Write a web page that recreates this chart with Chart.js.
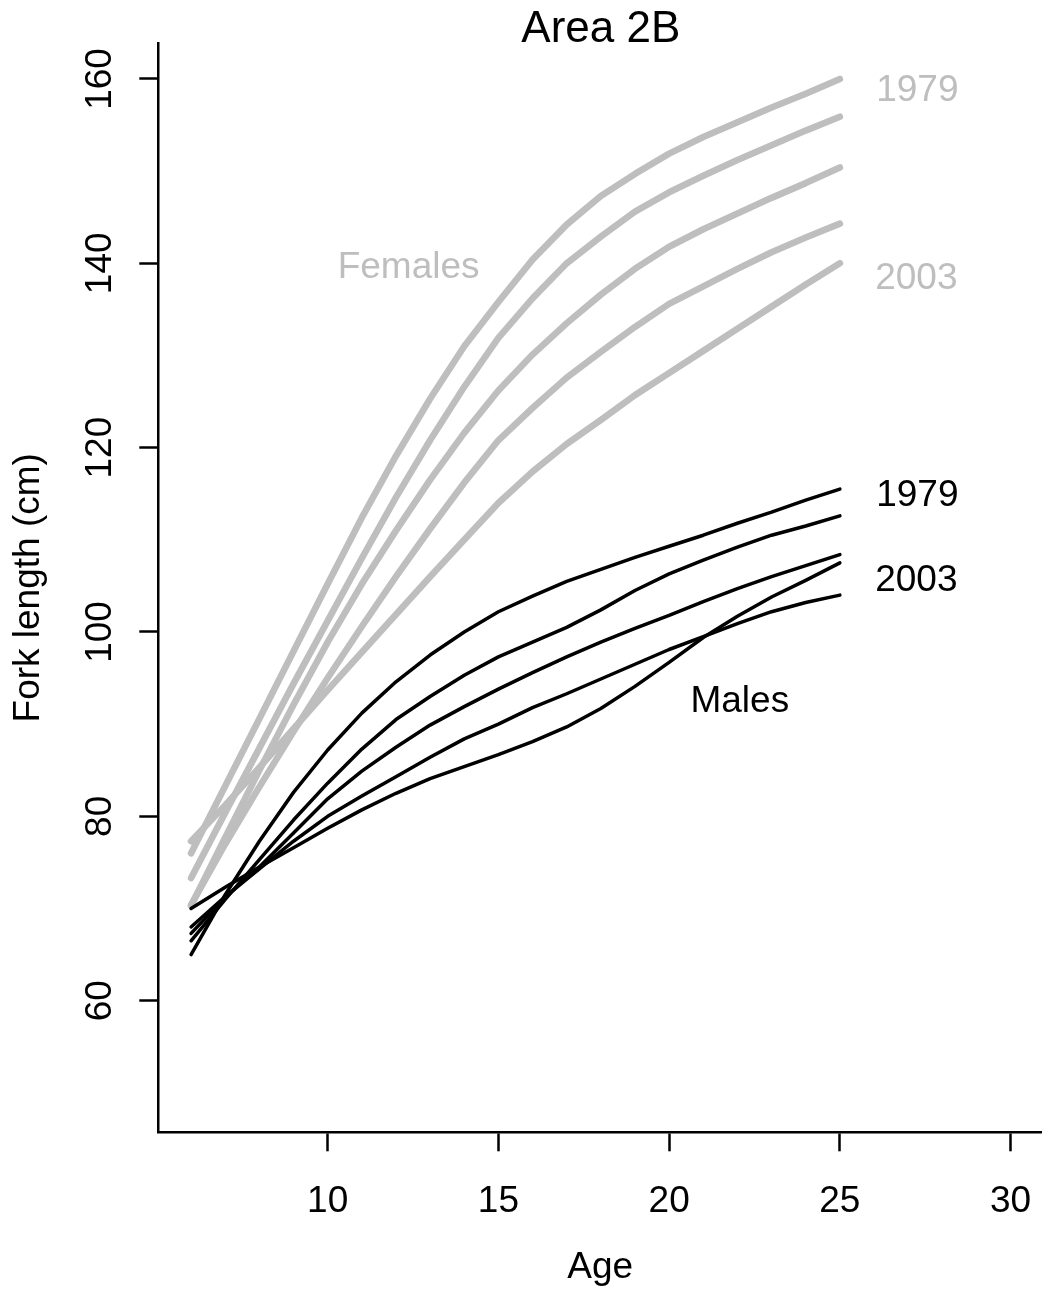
<!DOCTYPE html>
<html>
<head>
<meta charset="utf-8">
<title>Area 2B</title>
<script src="https://cdn.jsdelivr.net/npm/chart.js@4.4.1/dist/chart.umd.min.js"></script>
<style>
  html, body { margin: 0; padding: 0; background: #fff; }
  #wrap { width: 1042px; height: 1289px; position: relative; }
</style>
</head>
<body>
<div id="wrap"><canvas id="growth"></canvas></div>
<script>
// ages and fitted fork length (cm) by year, 1979 -> 2003
const ages = [6, 7, 8, 9, 10, 11, 12, 13, 14, 15, 16, 17, 18, 19, 20, 21, 22, 23, 24, 25]

const female1 = [76.0, 83.3, 90.6, 97.9, 105.2, 112.4, 119.1, 125.3, 131.0, 135.8, 140.4, 144.2, 147.3, 149.7, 151.9, 153.7, 155.3, 156.9, 158.4, 160.0]
const female2 = [73.3, 80.4, 87.4, 94.4, 101.2, 108.0, 114.6, 120.8, 126.6, 131.9, 136.2, 140.0, 142.9, 145.6, 147.7, 149.5, 151.2, 152.8, 154.4, 155.9]
const female3 = [70.3, 77.7, 85.0, 92.1, 98.9, 105.2, 111.0, 116.5, 121.6, 126.2, 130.1, 133.5, 136.6, 139.4, 141.8, 143.7, 145.4, 147.1, 148.7, 150.4]
const female4 = [70.4, 77.0, 83.2, 89.2, 95.0, 100.6, 106.0, 111.2, 116.2, 120.8, 124.3, 127.6, 130.4, 133.1, 135.6, 137.5, 139.4, 141.2, 142.8, 144.3]
const female5 = [77.3, 81.2, 85.3, 89.5, 93.7, 97.8, 101.9, 106.0, 110.0, 114.0, 117.4, 120.4, 123.0, 125.7, 128.1, 130.5, 132.9, 135.3, 137.7, 140.0]

const male1 = [65.0, 71.5, 77.3, 82.6, 87.2, 91.2, 94.6, 97.5, 100.0, 102.2, 103.9, 105.5, 106.8, 108.1, 109.3, 110.5, 111.8, 113.0, 114.3, 115.5]
const male2 = [66.5, 71.0, 75.3, 79.6, 83.6, 87.3, 90.5, 93.0, 95.3, 97.3, 98.9, 100.5, 102.4, 104.5, 106.3, 107.8, 109.2, 110.5, 111.5, 112.6]
const male3 = [67.3, 71.2, 74.5, 78.2, 81.9, 84.9, 87.5, 89.9, 91.9, 93.8, 95.6, 97.3, 98.9, 100.4, 101.8, 103.3, 104.7, 106.0, 107.2, 108.4]
const male4 = [68.0, 71.3, 74.3, 77.3, 80.0, 82.2, 84.3, 86.4, 88.4, 90.0, 91.8, 93.3, 94.9, 96.5, 98.1, 99.5, 100.9, 102.2, 103.2, 104.0]
const male5 = [70.0, 72.3, 74.5, 76.6, 78.7, 80.7, 82.5, 84.1, 85.4, 86.7, 88.1, 89.7, 91.7, 94.1, 96.7, 99.4, 101.7, 103.8, 105.6, 107.5]

const xTicks = [10, 15, 20, 25, 30]
const yTicks = [60, 80, 100, 120, 140, 160]

const grey = '#bebebe'
const family = "'Liberation Sans', Arial, Helvetica, sans-serif"

// text placed in data units
const notes = [
  { text: 'Females', age: 12.37, len: 139.5, colour: grey },
  { text: '1979', age: 27.27, len: 158.7, colour: grey },
  { text: '2003', age: 27.24, len: 138.3, colour: grey },
  { text: '1979', age: 27.27, len: 114.8, colour: '#000' },
  { text: '2003', age: 27.24, len: 105.6, colour: '#000' },
  { text: 'Males', age: 22.07, len: 92.4, colour: '#000' },
]

function line(vals, colour, width, order) {
  return {
    data: ages.map((a, i) => ({ x: a, y: vals[i] })),
    borderColor: colour,
    borderWidth: width,
    pointRadius: 0,
    tension: 0,
    borderCapStyle: 'round',
    borderJoinStyle: 'round',
    fill: false,
    order: order,
  }
}

// title + labels on top of the lines
const textLayer = {
  id: 'textLayer',
  afterDatasetsDraw(chart) {
    const { ctx, scales } = chart
    ctx.save()
    ctx.textAlign = 'center'
    ctx.textBaseline = 'middle'
    ctx.font = '37px ' + family
    notes.forEach((n) => {
      ctx.fillStyle = n.colour
      ctx.fillText(n.text, scales.x.getPixelForValue(n.age), scales.y.getPixelForValue(n.len))
    })
    ctx.fillStyle = '#000'
    ctx.font = '44px ' + family
    const mid = (ages[0] + xTicks[xTicks.length - 1]) / 2
    ctx.fillText('Area 2B', scales.x.getPixelForValue(mid), 29.5)
    ctx.restore()
  },
}

const axisGrid = {
  display: true,
  drawOnChartArea: false,
  drawTicks: true,
  tickLength: 19,
  tickWidth: 2.5,
  tickColor: '#000',
}

const growthChart = new Chart(document.getElementById('growth'), {
  type: 'line',
  data: {
    datasets: [
      line(female1, grey, 6.6, 1),
      line(female2, grey, 6.6, 1),
      line(female3, grey, 6.6, 1),
      line(female4, grey, 6.6, 1),
      line(female5, grey, 6.6, 1),
      line(male1, '#000', 3.5, 0),
      line(male2, '#000', 3.5, 0),
      line(male3, '#000', 3.5, 0),
      line(male4, '#000', 3.5, 0),
      line(male5, '#000', 3.5, 0),
    ],
  },
  options: {
    responsive: true,
    maintainAspectRatio: false,
    animation: false,
    devicePixelRatio: 1,
    layout: { padding: { top: 43.3, left: 0, right: 0, bottom: 0 } },
    plugins: {
      legend: { display: false },
      tooltip: { enabled: false },
    },
    scales: {
      x: {
        type: 'linear',
        min: 5.04,
        max: 30.92,
        afterFit: (s) => {
          s.height = 156.7
          s.paddingLeft = 0
          s.paddingRight = 0
        },
        afterBuildTicks: (s) => { s.ticks = xTicks.map((v) => ({ value: v })) },
        border: { display: true, color: '#000', width: 2.5 },
        grid: axisGrid,
        ticks: {
          color: '#000',
          font: { family: family, size: 37 },
          padding: 28,
          maxRotation: 0,
          autoSkip: false,
        },
        title: {
          display: true,
          text: 'Age',
          color: '#000',
          font: { family: family, size: 37, lineHeight: 1 },
          padding: { top: 0, bottom: 2.5 },
        },
      },
      y: {
        type: 'linear',
        min: 45.72,
        max: 163.87,
        afterFit: (s) => {
          s.width = 158.3
          s.paddingTop = 0
          s.paddingBottom = 0
        },
        afterBuildTicks: (s) => { s.ticks = yTicks.map((v) => ({ value: v })) },
        border: { display: true, color: '#000', width: 2.5 },
        grid: axisGrid,
        ticks: {
          color: '#000',
          font: { family: family, size: 37 },
          minRotation: 90,
          maxRotation: 90,
          crossAlign: 'center',
          padding: 7.5,
          autoSkip: false,
        },
        title: {
          display: true,
          text: 'Fork length (cm)',
          color: '#000',
          font: { family: family, size: 37, lineHeight: 1 },
          padding: { top: 10.5, bottom: 0 },
        },
      },
    },
  },
  plugins: [textLayer],
})
</script>
</body>
</html>
